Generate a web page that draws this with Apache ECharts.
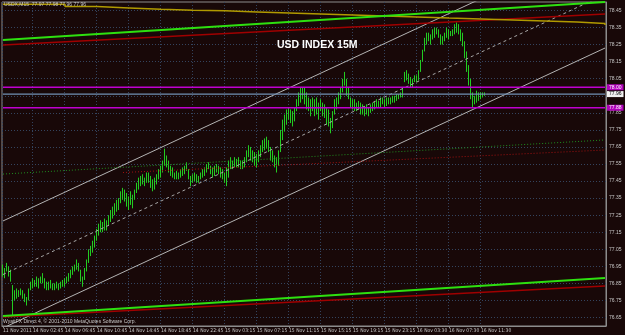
<!DOCTYPE html>
<html><head><meta charset="utf-8">
<script src="https://cdn.jsdelivr.net/npm/echarts@6.0.0/dist/echarts.min.js"></script>
<style>html,body{margin:0;padding:0;background:#180808;}#c{width:625px;height:335px;}</style>
</head><body><div id="c"></div>
<script>
// ---- data ----
const highs = [76.96,76.94,76.97,76.95,76.93,76.84,76.81,76.82,76.81,76.82,
76.81,76.79,76.77,76.82,76.86,76.88,76.87,76.89,76.88,76.89,
76.91,76.88,76.86,76.86,76.87,76.85,76.85,76.86,76.85,76.86,
76.87,76.88,76.89,76.91,76.93,76.95,76.96,76.99,76.97,76.93,
76.89,76.94,76.99,77.05,77.07,77.10,77.13,77.17,77.20,77.22,
77.21,77.23,77.22,77.25,77.28,77.30,77.32,77.34,77.35,77.39,
77.41,77.40,77.38,77.36,77.39,77.37,77.40,77.44,77.47,77.48,
77.49,77.47,77.50,77.50,77.48,77.46,77.47,77.49,77.52,77.54,
77.57,77.64,77.60,77.57,77.54,77.53,77.50,77.51,77.50,77.52,
77.53,77.54,77.56,77.52,77.48,77.49,77.50,77.49,77.48,77.50,
77.52,77.53,77.55,77.56,77.54,77.53,77.54,77.55,77.54,77.53,
77.52,77.50,77.53,77.57,77.59,77.57,77.59,77.58,77.59,77.57,
77.57,77.59,77.63,77.66,77.65,77.63,77.62,77.61,77.63,77.66,
77.69,77.70,77.71,77.69,77.65,77.63,77.60,77.59,77.63,77.75,
77.81,77.84,77.87,77.88,77.87,77.86,77.88,77.93,77.97,78.00,
78.00,78.00,77.97,77.94,77.93,77.94,77.93,77.94,77.91,77.93,
77.91,77.90,77.88,77.87,77.82,77.86,77.93,77.94,77.97,78.00,
78.05,78.09,78.05,78.00,77.94,77.93,77.93,77.91,77.92,77.91,
77.90,77.89,77.90,77.88,77.90,77.91,77.92,77.93,77.92,77.94,
77.94,77.93,77.94,77.94,77.94,77.95,77.95,77.96,77.96,77.97,
78.00,78.09,78.10,78.08,78.06,78.05,78.07,78.07,78.10,78.16,
78.22,78.29,78.32,78.32,78.31,78.34,78.35,78.35,78.34,78.31,
78.30,78.32,78.35,78.34,78.33,78.34,78.37,78.38,78.37,78.34,
78.32,78.27,78.21,78.13,78.05,77.97,77.95,77.98,77.97,77.97,
77.97,77.97];
const lows = [76.89,76.88,76.92,76.89,76.86,76.66,76.75,76.76,76.77,76.78,
76.76,76.74,76.72,76.75,76.81,76.82,76.83,76.83,76.82,76.85,
76.85,76.82,76.81,76.81,76.82,76.81,76.81,76.82,76.81,76.82,
76.83,76.83,76.85,76.86,76.88,76.90,76.92,76.93,76.92,76.86,
76.83,76.87,76.92,76.97,77.01,77.03,77.06,77.10,77.13,77.15,
77.15,77.16,77.16,77.19,77.21,77.23,77.25,77.27,77.28,77.32,
77.34,77.33,77.30,77.28,77.31,77.29,77.34,77.38,77.40,77.42,
77.43,77.42,77.44,77.44,77.41,77.39,77.40,77.43,77.46,77.47,
77.50,77.54,77.53,77.50,77.48,77.47,77.46,77.46,77.46,77.47,
77.48,77.49,77.51,77.46,77.42,77.44,77.45,77.44,77.44,77.46,
77.47,77.48,77.50,77.52,77.49,77.47,77.48,77.50,77.49,77.47,
77.46,77.44,77.42,77.47,77.52,77.52,77.53,77.53,77.53,77.52,
77.52,77.53,77.56,77.59,77.57,77.56,77.54,77.53,77.56,77.59,
77.62,77.63,77.64,77.62,77.57,77.56,77.53,77.50,77.54,77.62,
77.69,77.74,77.78,77.81,77.79,77.77,77.80,77.86,77.89,77.91,
77.93,77.90,77.87,77.86,77.83,77.86,77.83,77.84,77.81,77.86,
77.83,77.82,77.78,77.77,77.73,77.76,77.84,77.87,77.90,77.93,
77.97,78.01,77.95,77.93,77.88,77.87,77.86,77.86,77.87,77.84,
77.84,77.83,77.84,77.83,77.85,77.86,77.87,77.88,77.88,77.88,
77.90,77.88,77.89,77.90,77.90,77.91,77.91,77.92,77.93,77.94,
77.94,78.03,78.04,78.02,78.00,78.00,78.03,78.03,78.04,78.09,
78.15,78.21,78.25,78.27,78.25,78.28,78.29,78.31,78.29,78.25,
78.25,78.27,78.29,78.28,78.30,78.30,78.31,78.32,78.31,78.27,
78.24,78.17,78.09,78.01,77.93,77.88,77.90,77.91,77.92,77.93,
77.94,77.95];
const totalSlots = 302;
const timeLabelIdx = [0,15,31,47,63,79,95,111,127,143,159,175,191,207,223,239];
const timeLabels = ['11 Nov 2011','14 Nov 02:45','14 Nov 06:45','14 Nov 10:45','14 Nov 14:45','14 Nov 18:45','14 Nov 22:45','15 Nov 03:15','15 Nov 07:15','15 Nov 11:15','15 Nov 15:15','15 Nov 19:15','15 Nov 23:15','16 Nov 03:30','16 Nov 07:30','16 Nov 11:30'];
// trend lines [index, price]
const channelUpper = [[0,77.216],[301,78.858]];
const channelMid   = [[0,76.902],[301,78.544]];
const channelLower = [[0,76.588],[301,78.230]];
const greenTop = [[0,78.277],[301,78.500]];
const redTop = [[0,78.248],[301,78.430]];
const greenBottom = [[0,76.659],[301,76.882]];
const redBottom = [[0,76.653],[301,76.835]];
const greenMidDotted = [[0,77.491],[301,77.691]];
const redMidDotted = [[60,77.50],[301,77.632]];
const yellowIdx = [0,31,47,63,79,95,111,127,143,159,175,191,207,223,239,255,271,287,301];
const yellowVals = [78.487,78.473,78.465,78.457,78.452,78.448,78.442,78.436,78.430,78.424,78.418,78.412,78.406,78.401,78.395,78.389,78.383,78.374,78.365];
const levelValues = [78.00, 77.96, 77.88];
const levelKinds = ['mag','bid','mag'];
const headerText = 'USDX,M15  77.97 77.98 77.96 77.96';
const titleText = 'USD INDEX 15M';
const footerText = 'WyattFX Direct 4, \u00a9 2001-2010 MetaQuotes Software Corp.';

// ---- build ----
const cats = [];
for (let i = 0; i < totalSlots; i++) {
  const k = timeLabelIdx.indexOf(i);
  cats.push(k >= 0 ? timeLabels[k] : 's' + i);
}
const isLabel = (i) => timeLabelIdx.indexOf(i) >= 0;
const candles = highs.map((h, i) => [lows[i], h, lows[i], h]);
const gridCol = '#34445e';
const F = 'Liberation Sans';
const FN = '"Liberation Sans Narrow", "DejaVu Sans Condensed", "Liberation Sans"';

function lineSeries(data, color, width, type, extra) {
  return Object.assign({
    type: 'line', data: data, symbol: 'none', silent: true, clip: true, z: 4,
    lineStyle: { color: color, width: width, type: type || 'solid' }
  }, extra || {});
}

const levelSeries = levelValues.map((v, i) => {
  const mag = levelKinds[i] === 'mag';
  return {
    type: 'line', data: [[0, v], [totalSlots - 1, v]], symbol: 'none', silent: true, z: 6, clip: false,
    lineStyle: { color: mag ? '#c000d0' : '#7090b4', width: 1.3 },
    endLabel: {
      show: true, distance: 2, formatter: v.toFixed(2),
      fontSize: 5, fontFamily: F, padding: [1, 2, 0, 2],
      color: mag ? '#ffffff' : '#000000', backgroundColor: mag ? '#b000b8' : '#f0f0f0'
    }
  };
});

const chart = echarts.init(document.getElementById('c'), null, { renderer: 'canvas' });
chart.setOption({
  animation: false,
  backgroundColor: '#180808',
  grid: { left: 2, right: 19, top: 2, bottom: 9, show: true, borderColor: '#8c8c8c', borderWidth: 1 },
  xAxis: {
    type: 'category', data: cats, boundaryGap: true,
    axisLine: { show: true, lineStyle: { color: '#8c8c8c' } },
    axisTick: { show: true, interval: isLabel, alignWithLabel: true, length: 2, lineStyle: { color: '#8c8c8c' } },
    axisLabel: { interval: isLabel, align: 'left', margin: 2, fontSize: 5, fontFamily: FN, color: '#c8c8c8' },
    splitLine: { show: true, interval: isLabel, lineStyle: { color: gridCol, type: [1, 2], width: 1 } }
  },
  yAxis: {
    type: 'value', position: 'right', min: 76.60, max: 78.50, interval: 0.05, scale: true,
    axisLine: { show: true, lineStyle: { color: '#8c8c8c' } },
    axisTick: { show: false },
    axisLabel: {
      margin: 3, fontSize: 5, fontFamily: F, color: '#c8c8c8',
      formatter: (v) => { const k = Math.round(v * 100); return (k % 10 === 5) ? (k / 100).toFixed(2) : ''; }
    },
    splitLine: { show: true, lineStyle: { color: ['rgba(0,0,0,0)', gridCol], type: [1, 2], width: 1 } }
  },
  series: [
    {
      type: 'candlestick', data: candles, barWidth: 1, z: 3, silent: true,
      itemStyle: { color: '#22cc22', borderColor: '#22cc22', borderWidth: 1, color0: '#22cc22', borderColor0: '#22cc22' }
    },
    lineSeries(channelUpper, '#b4b4b4', 1),
    lineSeries(channelMid, '#a8a8a8', 1, [3, 3]),
    lineSeries(channelLower, '#b4b4b4', 1),
    lineSeries(greenMidDotted, '#1f8f1f', 1, [1, 2]),
    lineSeries(redMidDotted, '#a01010', 1, [1, 2]),
    lineSeries(redTop, '#a00000', 1.5),
    lineSeries(redBottom, '#a00000', 1.5),
    lineSeries(yellowIdx.map((x, i) => [x, yellowVals[i]]), '#b09a00', 1.5, 'solid', { step: 'end' }),
    lineSeries(greenTop, '#2ee010', 2),
    lineSeries(greenBottom, '#2ee010', 2)
  ].concat(levelSeries),
  graphic: [
    { type: 'text', left: 4, top: 2, silent: true, z: 100, style: { text: headerText, fill: '#c8c8c8', font: '5px ' + F } },
    { type: 'text', left: 277, top: 40, silent: true, z: 100, style: { text: titleText, fill: '#ffffff', font: 'bold 10.5px ' + F } },
    { type: 'text', left: 3, top: 319, silent: true, z: 100, style: { text: footerText, fill: '#c8c8c8', font: '5px ' + F } }
  ]
});
</script></body></html>
